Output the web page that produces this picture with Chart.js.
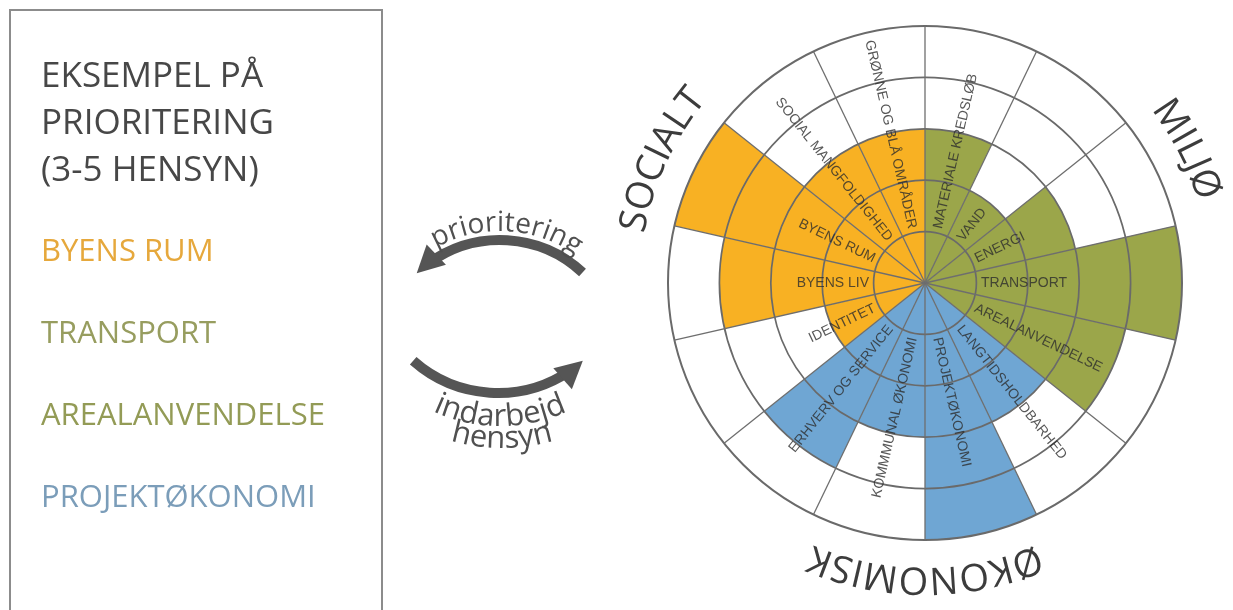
<!DOCTYPE html>
<html>
<head>
<meta charset="utf-8">
<script src="https://cdn.jsdelivr.net/npm/chart.js@4.4.1/dist/chart.umd.min.js"></script>
<style>
html,body{margin:0;padding:0;background:#fff;width:1233px;height:610px;overflow:hidden;}
#c{position:absolute;left:0;top:0;}
</style>
</head>
<body>
<canvas id="c" width="1233" height="610"></canvas>
<script>
// ---- data ----
const labels = ['MATERIALE KREDSLØB','VAND','ENERGI','TRANSPORT','AREALANVENDELSE',
  'LANGTIDSHOLDBARHED','PROJEKTØKONOMI','KOMMMUNAL ØKONOMI','ERHVERV OG SERVICE',
  'IDENTITET','BYENS LIV','BYENS RUM','SOCIAL MANGFOLDIGHED','GRØNNE OG BLÅ OMRÅDER'];
const values = [3,2,3,5,4,3,5,3,4,2,4,5,3,3];
const groups = ['MILJØ','MILJØ','MILJØ','MILJØ','MILJØ',
  'ØKONOMISK','ØKONOMISK','ØKONOMISK','ØKONOMISK',
  'SOCIALT','SOCIALT','SOCIALT','SOCIALT','SOCIALT'];
const groupNames = ['SOCIALT','MILJØ','ØKONOMISK'];
const groupColors = {'MILJØ':'#9ba64a','ØKONOMISK':'#6fa6d3','SOCIALT':'#f8b123'};
const tickValues = [0,1,2,3,4,5];
const panelTitle = ['EKSEMPEL PÅ','PRIORITERING','(3-5 HENSYN)'];
const priorities = ['BYENS RUM','TRANSPORT','AREALANVENDELSE','PROJEKTØKONOMI'];
const priorityColors = ['#e6a83c','#979d5f','#939b56','#7b9db9'];
const arrowTexts = ['prioritering','indarbejd','hensyn'];

// ---- helpers ----
function arcText(ctx, text, cx, cy, r, centerA, outward){
  const total = ctx.measureText(text).width;
  const span = total / r;
  let acc = 0;
  for (const ch of text){
    const w = ctx.measureText(ch).width;
    const a = outward ? centerA - span/2 + (acc + w/2)/r : centerA + span/2 - (acc + w/2)/r;
    ctx.save();
    ctx.translate(cx + r*Math.cos(a), cy + r*Math.sin(a));
    ctx.rotate(outward ? a + Math.PI/2 : a - Math.PI/2);
    ctx.textAlign = 'center';
    ctx.textBaseline = 'alphabetic';
    ctx.fillText(ch, 0, 0);
    ctx.restore();
    acc += w;
  }
}
function arrow(ctx, cx, cy, R, a0, a1, aTip, ccw){
  ctx.save();
  ctx.strokeStyle = '#555555';
  ctx.fillStyle = '#555555';
  ctx.lineWidth = 10;
  ctx.lineCap = 'butt';
  ctx.beginPath();
  ctx.arc(cx, cy, R, a0, a1, ccw);
  ctx.stroke();
  const tx = cx + R*Math.cos(aTip), ty = cy + R*Math.sin(aTip);
  const dx = ccw ? Math.sin(aTip) : -Math.sin(aTip);
  const dy = ccw ? -Math.cos(aTip) : Math.cos(aTip);
  const L = 27, H = 14;
  const bx = tx - dx*L, by = ty - dy*L;
  ctx.beginPath();
  ctx.moveTo(tx, ty);
  ctx.lineTo(bx + dy*H, by - dx*H);
  ctx.lineTo(bx - dy*H, by + dx*H);
  ctx.closePath();
  ctx.fill();
  ctx.restore();
}
const D = Math.PI/180;

const decor = {
  id: 'decor',
  afterDraw(chart){
    const ctx = chart.ctx;
    const scale = chart.scales.r;
    const cx = scale.xCenter, cy = scale.yCenter;
    const step = 2*Math.PI/labels.length;

    // segment labels
    ctx.save();
    ctx.font = '14px "Liberation Sans", Arial, sans-serif';
    ctx.fillStyle = 'rgba(45,45,45,0.8)';
    ctx.textBaseline = 'middle';
    labels.forEach((lab, i) => {
      const mid = scale.getIndexAngle(i) + step/2;
      const a = mid - Math.PI/2;
      ctx.save();
      ctx.translate(cx, cy);
      if (mid < Math.PI){
        ctx.rotate(a); ctx.textAlign = 'left'; ctx.fillText(lab, 56, 0.5);
      } else {
        ctx.rotate(a + Math.PI); ctx.textAlign = 'right'; ctx.fillText(lab, -56, 0.5);
      }
      ctx.restore();
    });
    ctx.restore();

    // group titles on arc
    ctx.save();
    ctx.font = '38px "Open Sans", sans-serif';
    ctx.fillStyle = '#3c3c3c';
    const gAng = {'SOCIALT': 295, 'MILJØ': 63, 'ØKONOMISK': 180};
    groupNames.forEach(g => {
      arcText(ctx, g, cx, cy, scale.drawingArea + 28, (gAng[g]-90)*D, true);
    });
    ctx.restore();

    // left panel
    ctx.save();
    ctx.strokeStyle = '#8c8c8c';
    ctx.lineWidth = 2;
    ctx.strokeRect(10, 10, 372, 630);
    ctx.font = '35px "Open Sans", sans-serif';
    ctx.fillStyle = '#474747';
    ctx.textBaseline = 'alphabetic';
    ctx.textAlign = 'left';
    panelTitle.forEach((t, i) => ctx.fillText(t, 41, 87 + i*47));
    ctx.font = '31px "Open Sans", sans-serif';
    priorities.forEach((t, i) => {
      ctx.fillStyle = priorityColors[i];
      ctx.fillText(t, 41, 261 + i*82);
    });
    ctx.restore();

    // arrows
    arrow(ctx, 500, 361, 121, -47*D, -126*D, -133.5*D, true);
    arrow(ctx, 498, 265, 128, 131.5*D, 56*D, 48.5*D, true);
    ctx.save();
    ctx.fillStyle = '#505050';
    ctx.font = '28px "Open Sans", sans-serif';
    arcText(ctx, arrowTexts[0], 500, 361, 130, -87*D, true);
    ctx.font = '31px "Open Sans", sans-serif';
    arcText(ctx, arrowTexts[1], 500, 265, 161, 90*D, false);
    arcText(ctx, arrowTexts[2], 502, 265, 183, 90*D, false);
    ctx.restore();
  }
};

new Chart(document.getElementById('c'), {
  type: 'polarArea',
  data: {
    labels: labels,
    datasets: [{
      data: values,
      backgroundColor: groups.map(g => groupColors[g]),
      borderWidth: 0
    }]
  },
  options: {
    responsive: false,
    animation: false,
    layout: { padding: { left: 668, right: 51, top: 26, bottom: 70 } },
    plugins: { legend: { display: false }, tooltip: { enabled: false } },
    scales: {
      r: {
        min: tickValues[0],
        max: tickValues[tickValues.length-1],
        ticks: { display: false, stepSize: 1 },
        grid: { z: 1, color: '#6a6a6a', lineWidth: (c) => c.tick && c.tick.value === 5 ? 2 : 1.7 },
        angleLines: { display: true, color: '#6e6e6e', lineWidth: 1.3 },
        pointLabels: { display: false }
      }
    }
  },
  plugins: [decor]
});
</script>
</body>
</html>
